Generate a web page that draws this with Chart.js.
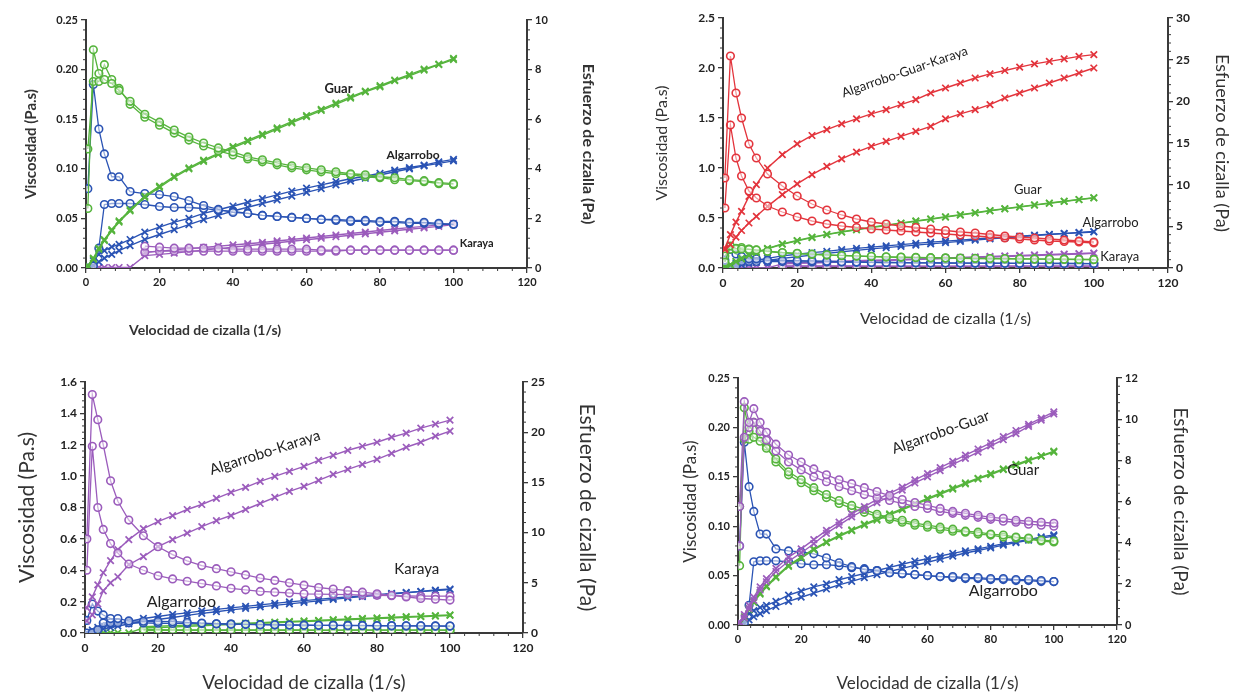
<!DOCTYPE html>
<html>
<head>
<meta charset="utf-8">
<script src="https://cdn.jsdelivr.net/npm/chart.js@4/dist/chart.umd.min.js"></script>
<style>
  body { margin: 0; background: #fff; width: 1239px; height: 698px; position: relative; overflow: hidden; }
  canvas { position: absolute; }
</style>
</head>
<body>
<canvas id="c1" width="584" height="342" style="left:18px;top:0px"></canvas>
<canvas id="c2" width="589" height="332" style="left:648px;top:0px"></canvas>
<canvas id="c3" width="592" height="338" style="left:11px;top:360px"></canvas>
<canvas id="c4" width="520" height="338" style="left:676px;top:360px"></canvas>
<script>
// shear rates (1/s) shared by every curve
const rates = [0.5, 2, 3.5, 5, 7, 9, 12, 16, 20, 24, 28, 32, 36, 40, 44, 48, 52, 56, 60, 64, 68, 72, 76, 80, 84, 88, 92, 96, 100];

// Guar
const guarViscUp     = [0.06, 0.22, 0.196, 0.19, 0.186, 0.179, 0.168, 0.155, 0.147, 0.139, 0.132, 0.126, 0.121, 0.117, 0.112, 0.109, 0.106, 0.103, 0.101, 0.099, 0.097, 0.095, 0.094, 0.092, 0.091, 0.089, 0.088, 0.086, 0.085];
const guarViscDown   = [0.12, 0.188, 0.188, 0.205, 0.19, 0.181, 0.165, 0.152, 0.144, 0.136, 0.129, 0.123, 0.118, 0.114, 0.11, 0.107, 0.104, 0.101, 0.099, 0.097, 0.095, 0.094, 0.092, 0.091, 0.089, 0.088, 0.087, 0.085, 0.084];
const guarStressUp   = [0.05, 0.35, 0.75, 1.1, 1.5, 1.85, 2.3, 2.85, 3.25, 3.65, 4.0, 4.3, 4.58, 4.85, 5.1, 5.35, 5.6, 5.85, 6.1, 6.35, 6.6, 6.85, 7.1, 7.3, 7.55, 7.75, 7.98, 8.2, 8.4];
const guarStressDown = [0.1, 0.4, 0.8, 1.15, 1.55, 1.9, 2.35, 2.9, 3.3, 3.7, 4.04, 4.35, 4.62, 4.9, 5.15, 5.4, 5.65, 5.9, 6.15, 6.4, 6.65, 6.9, 7.13, 7.35, 7.58, 7.8, 8.02, 8.22, 8.45];

// Algarrobo
const algViscUp     = [0.08, 0.185, 0.14, 0.115, 0.092, 0.092, 0.077, 0.075, 0.074, 0.072, 0.068, 0.063, 0.059, 0.056, 0.055, 0.053, 0.052, 0.051, 0.05, 0.049, 0.049, 0.048, 0.048, 0.047, 0.047, 0.046, 0.046, 0.045, 0.044];
const algViscDown   = [0.0, 0.002, 0.02, 0.064, 0.065, 0.065, 0.065, 0.064, 0.062, 0.061, 0.061, 0.06, 0.058, 0.057, 0.055, 0.053, 0.052, 0.051, 0.05, 0.049, 0.048, 0.047, 0.047, 0.046, 0.046, 0.045, 0.045, 0.044, 0.044];
const algStressUp   = [0.02, 0.1, 0.25, 0.4, 0.55, 0.7, 0.9, 1.15, 1.35, 1.55, 1.75, 1.95, 2.12, 2.3, 2.45, 2.6, 2.75, 2.9, 3.05, 3.2, 3.35, 3.5, 3.62, 3.75, 3.88, 4.0, 4.12, 4.22, 4.32];
const algStressDown = [0.05, 0.3, 0.55, 0.7, 0.85, 0.95, 1.15, 1.45, 1.65, 1.85, 2.0, 2.2, 2.35, 2.5, 2.65, 2.8, 2.95, 3.1, 3.22, 3.35, 3.48, 3.6, 3.7, 3.82, 3.95, 4.05, 4.15, 4.28, 4.38];

// Karaya
const karViscUp     = [null, null, null, null, null, null, null, 0.022, 0.021, 0.02, 0.02, 0.02, 0.02, 0.019, 0.019, 0.019, 0.019, 0.019, 0.019, 0.018, 0.018, 0.018, 0.018, 0.018, 0.018, 0.018, 0.018, 0.018, 0.018];
const karViscDown   = [null, null, null, null, null, null, null, 0.016, 0.017, 0.017, 0.017, 0.017, 0.017, 0.017, 0.017, 0.017, 0.017, 0.017, 0.017, 0.017, 0.017, 0.018, 0.018, 0.018, 0.018, 0.018, 0.018, 0.018, 0.018];
const karStressUp   = [0.02, 0.02, 0.02, 0.02, 0.02, 0.02, 0.02, 0.5, 0.55, 0.6, 0.66, 0.72, 0.78, 0.84, 0.9, 0.96, 1.02, 1.08, 1.14, 1.2, 1.26, 1.32, 1.38, 1.44, 1.5, 1.56, 1.62, 1.68, 1.75];
const karStressDown = [null, null, null, null, null, null, null, 0.62, 0.68, 0.73, 0.78, 0.83, 0.88, 0.93, 0.98, 1.03, 1.09, 1.15, 1.21, 1.27, 1.33, 1.39, 1.45, 1.51, 1.57, 1.63, 1.68, 1.74, 1.8];

// Algarrobo-Guar-Karaya
const agkViscUp     = [0.9, 2.12, 1.75, 1.5, 1.24, 1.1, 0.94, 0.82, 0.72, 0.64, 0.58, 0.53, 0.49, 0.46, 0.44, 0.42, 0.405, 0.39, 0.375, 0.36, 0.35, 0.335, 0.32, 0.31, 0.3, 0.29, 0.28, 0.27, 0.26];
const agkViscDown   = [0.6, 1.43, 1.1, 0.92, 0.77, 0.7, 0.62, 0.56, 0.51, 0.47, 0.44, 0.42, 0.405, 0.39, 0.38, 0.37, 0.36, 0.35, 0.34, 0.33, 0.32, 0.31, 0.3, 0.29, 0.28, 0.27, 0.265, 0.26, 0.25];
const agkStressUp   = [2.2, 2.8, 3.7, 4.5, 5.4, 6.2, 7.4, 8.8, 10.1, 11.2, 12.2, 13.1, 13.9, 14.6, 15.2, 15.8, 16.4, 17.0, 17.9, 18.5, 19.0, 19.6, 20.4, 21.0, 21.6, 22.2, 22.8, 23.4, 24.0];
const agkStressDown = [2.4, 4.0, 5.5, 6.8, 8.6, 10.0, 12.0, 13.6, 14.9, 15.9, 16.6, 17.3, 17.9, 18.5, 19.0, 19.6, 20.2, 21.0, 21.6, 22.2, 22.8, 23.3, 23.7, 24.1, 24.5, 24.8, 25.1, 25.4, 25.6];

// Algarrobo-Karaya
const akViscUp     = [0.6, 1.52, 1.36, 1.2, 0.97, 0.84, 0.72, 0.62, 0.55, 0.5, 0.46, 0.43, 0.41, 0.39, 0.37, 0.35, 0.335, 0.32, 0.305, 0.29, 0.28, 0.27, 0.26, 0.25, 0.24, 0.23, 0.22, 0.215, 0.21];
const akViscDown   = [0.4, 1.19, 0.8, 0.66, 0.57, 0.51, 0.44, 0.4, 0.365, 0.345, 0.33, 0.315, 0.3, 0.285, 0.275, 0.265, 0.26, 0.255, 0.25, 0.248, 0.246, 0.244, 0.242, 0.24, 0.238, 0.236, 0.235, 0.235, 0.235];
const akStressUp   = [2.5, 3.6, 4.8, 6.0, 7.2, 8.3, 9.3, 10.4, 11.1, 11.7, 12.3, 12.8, 13.4, 14.0, 14.5, 15.1, 15.6, 16.1, 16.6, 17.2, 17.7, 18.2, 18.6, 19.0, 19.5, 19.9, 20.4, 20.8, 21.2];
const akStressDown = [1.2, 1.8, 2.9, 4.2, 5.0, 5.6, 6.8, 7.6, 8.6, 9.3, 9.95, 10.6, 11.2, 11.7, 12.3, 12.9, 13.5, 14.1, 14.6, 15.2, 15.8, 16.3, 16.8, 17.3, 17.9, 18.5, 19.0, 19.6, 20.1];

// Algarrobo-Guar
const agViscUp     = [0.12, 0.226, 0.205, 0.219, 0.205, 0.195, 0.183, 0.172, 0.165, 0.158, 0.152, 0.147, 0.143, 0.139, 0.135, 0.131, 0.127, 0.124, 0.121, 0.118, 0.115, 0.113, 0.111, 0.109, 0.108, 0.106, 0.105, 0.104, 0.103];
const agViscDown   = [0.08, 0.19, 0.2, 0.205, 0.196, 0.187, 0.176, 0.165, 0.157, 0.15, 0.145, 0.14, 0.136, 0.132, 0.129, 0.126, 0.123, 0.12, 0.118, 0.115, 0.113, 0.111, 0.109, 0.107, 0.105, 0.104, 0.102, 0.101, 0.1];
const agStressUp   = [0.1, 0.35, 0.8, 1.2, 1.7, 2.1, 2.6, 3.1, 3.5, 3.95, 4.45, 4.85, 5.25, 5.6, 5.95, 6.25, 6.55, 6.9, 7.2, 7.5, 7.8, 8.1, 8.4, 8.7, 9.0, 9.3, 9.65, 9.95, 10.25];
const agStressDown = [0.15, 0.5, 0.95, 1.35, 1.85, 2.25, 2.75, 3.3, 3.7, 4.15, 4.6, 5.0, 5.4, 5.75, 6.1, 6.4, 6.7, 7.05, 7.35, 7.65, 7.95, 8.25, 8.55, 8.85, 9.15, 9.45, 9.75, 10.05, 10.35];

const GREEN = '#55b43c', BLUE = '#2a53b4', PURPLE = '#9b5cbc', RED = '#e3343c';
const AXIS = '#3a3a3a';
const FAM = "Lato, 'Liberation Sans', sans-serif";
const X_TITLE = 'Velocidad de cizalla (1/s)';

function pts(vals) {
  return vals.map((v, i) => ({ x: rates[i], y: v }));
}

function visc(label, vals, color) {
  return {
    label, data: pts(vals), yAxisID: 'y',
    borderColor: color, borderWidth: 1.3,
    pointStyle: 'circle', pointRadius: 3.8, pointBorderWidth: 1.6,
    pointBorderColor: color, pointBackgroundColor: 'rgba(255,255,255,0.5)'
  };
}

function stress(label, vals, color) {
  return {
    label, data: pts(vals), yAxisID: 'y2',
    borderColor: color, borderWidth: 1.4,
    pointStyle: 'crossRot', pointRadius: 4.6, pointBorderWidth: 1.7,
    pointBorderColor: color, pointBackgroundColor: color
  };
}

// small minor ticks between major ones
const minorTicks = {
  id: 'minorTicks',
  afterDraw(chart) {
    const ctx = chart.ctx, a = chart.chartArea;
    ctx.save();
    ctx.strokeStyle = AXIS;
    ctx.lineWidth = 1;
    Object.values(chart.scales).forEach(s => {
      const t = s.ticks;
      for (let i = 0; i < t.length - 1; i++) {
        for (let k = 1; k < 5; k++) {
          const v = t[i].value + (t[i + 1].value - t[i].value) * k / 5;
          const p = s.getPixelForValue(v);
          ctx.beginPath();
          if (s.axis === 'x') { ctx.moveTo(p, a.bottom); ctx.lineTo(p, a.bottom + 3); }
          else if (s.position === 'left') { ctx.moveTo(a.left, p); ctx.lineTo(a.left - 3, p); }
          else { ctx.moveTo(a.right, p); ctx.lineTo(a.right + 3, p); }
          ctx.stroke();
        }
      }
    });
    ctx.restore();
  }
};

// curve names written inside the plot, plus an off-centre x title when asked
const notes = {
  id: 'notes',
  afterDraw(chart, args, opts) {
    const ctx = chart.ctx;
    (opts.items || []).forEach(n => {
      const px = chart.scales.x.getPixelForValue(n.x);
      const py = chart.scales.y.getPixelForValue(n.y);
      ctx.save();
      ctx.translate(px, py);
      ctx.rotate((n.angle || 0) * Math.PI / 180);
      ctx.font = n.font;
      ctx.fillStyle = '#222';
      ctx.textAlign = 'center';
      ctx.textBaseline = 'middle';
      ctx.fillText(n.text, 0, 0);
      ctx.restore();
    });
    if (opts.xTitle) {
      ctx.save();
      ctx.font = opts.xTitle.font;
      ctx.fillStyle = '#333';
      ctx.textAlign = 'center';
      ctx.textBaseline = 'middle';
      ctx.fillText(X_TITLE, chart.scales.x.getPixelForValue(opts.xTitle.x), chart.height - opts.xTitle.up);
      ctx.restore();
    }
  }
};

function makeChart(id, datasets, ax, items) {
  const tickFont = { family: FAM, size: ax.tick, weight: 'bold' };
  const font = size => ({ family: FAM, size, weight: ax.titleWeight });
  const grid = { display: true, drawOnChartArea: false, drawTicks: true, tickLength: 5, color: AXIS, lineWidth: 1.3 };
  const border = { display: true, color: AXIS, width: 2 };
  return new Chart(document.getElementById(id), {
    type: 'line',
    data: { datasets },
    options: {
      responsive: false,
      animation: false,
      layout: { padding: { top: ax.top, left: 0, right: 0, bottom: 0 } },
      plugins: { legend: { display: false }, tooltip: { enabled: false }, notes: { items, xTitle: ax.xTitle } },
      scales: {
        x: {
          type: 'linear', min: 0, max: 120,
          ticks: { stepSize: 20, color: '#222', font: tickFont, padding: 3, maxRotation: 0 },
          grid, border,
          title: { display: !ax.xTitle, text: X_TITLE, color: '#333', font: font(ax.xt), padding: 4 },
          afterFit: s => { s.height = ax.bottom; }
        },
        y: {
          position: 'left', min: 0, max: ax.yMax,
          ticks: { stepSize: ax.yStep, color: '#222', font: tickFont, padding: 3, callback: v => v.toFixed(ax.yDec) },
          grid, border,
          title: { display: true, text: 'Viscosidad (Pa.s)', color: '#333', font: font(ax.lt), padding: 4 },
          afterFit: s => { s.width = ax.left; }
        },
        y2: {
          position: 'right', min: 0, max: ax.y2Max,
          ticks: { stepSize: ax.y2Step, color: '#222', font: tickFont, padding: 3 },
          grid, border,
          title: { display: true, text: 'Esfuerzo de cizalla (Pa)', color: '#333', font: font(ax.rt), padding: 4 },
          afterFit: s => { s.width = ax.right; }
        }
      }
    },
    plugins: [minorTicks, notes]
  });
}

function gum(name, vu, vd, su, sd, color) {
  return [
    visc(name + ' viscosidad subida', vu, color),
    visc(name + ' viscosidad bajada', vd, color),
    stress(name + ' esfuerzo subida', su, color),
    stress(name + ' esfuerzo bajada', sd, color)
  ];
}

const guar = c => gum('Guar', guarViscUp, guarViscDown, guarStressUp, guarStressDown, c);
const alg = c => gum('Algarrobo', algViscUp, algViscDown, algStressUp, algStressDown, c);
const kar = c => gum('Karaya', karViscUp, karViscDown, karStressUp, karStressDown, c);

makeChart('c1', [...guar(GREEN), ...alg(BLUE), ...kar(PURPLE)],
  { yMax: 0.25, yStep: 0.05, yDec: 2, y2Max: 10, y2Step: 2, tick: 11, xt: 14, lt: 15, rt: 16, titleWeight: 'bold',
    left: 68, right: 75, bottom: 74, top: 20,
    xTitle: { x: 32.4, up: 12, font: "bold 14px " + FAM } },
  [
    { text: 'Guar', x: 68.7, y: 0.181, font: "bold 13px " + FAM },
    { text: 'Algarrobo', x: 89, y: 0.114, font: "bold 12px " + FAM },
    { text: 'Karaya', x: 106.3, y: 0.025, font: "bold 11px " + FAM }
  ]);

makeChart('c2', [...gum('Algarrobo-Guar-Karaya', agkViscUp, agkViscDown, agkStressUp, agkStressDown, RED),
    ...guar(GREEN), ...alg(BLUE), ...kar(PURPLE)],
  { yMax: 2.5, yStep: 0.5, yDec: 1, y2Max: 30, y2Step: 5, tick: 12, xt: 16, lt: 16, rt: 18, titleWeight: 'normal',
    left: 75, right: 69, bottom: 64, top: 18 },
  [
    { text: 'Algarrobo-Guar-Karaya', x: 49, y: 1.96, angle: -19, font: "13px " + FAM },
    { text: 'Guar', x: 82.2, y: 0.78, font: "13px " + FAM },
    { text: 'Algarrobo', x: 104.5, y: 0.45, font: "13px " + FAM },
    { text: 'Karaya', x: 107, y: 0.11, font: "13px " + FAM }
  ]);

makeChart('c3', [...gum('Algarrobo-Karaya', akViscUp, akViscDown, akStressUp, akStressDown, PURPLE),
    ...alg(BLUE), ...kar(GREEN)],
  { yMax: 1.6, yStep: 0.2, yDec: 1, y2Max: 25, y2Step: 5, tick: 12, xt: 19, lt: 21, rt: 21, titleWeight: 'normal',
    left: 74, right: 80, bottom: 65, top: 22 },
  [
    { text: 'Algarrobo-Karaya', x: 49.3, y: 1.15, angle: -18, font: "15px " + FAM },
    { text: 'Algarrobo', x: 26.4, y: 0.2, font: "16px " + FAM },
    { text: 'Karaya', x: 90.9, y: 0.41, font: "15px " + FAM }
  ]);

makeChart('c4', [...gum('Algarrobo-Guar', agViscUp, agViscDown, agStressUp, agStressDown, PURPLE),
    ...guar(GREEN), ...alg(BLUE)],
  { yMax: 0.25, yStep: 0.05, yDec: 2, y2Max: 12, y2Step: 2, tick: 11, xt: 17, lt: 17, rt: 19, titleWeight: 'normal',
    left: 62, right: 79, bottom: 73, top: 18 },
  [
    { text: 'Algarrobo-Guar', x: 64.2, y: 0.195, angle: -19.5, font: "15px " + FAM },
    { text: 'Guar', x: 90.3, y: 0.157, font: "15px " + FAM },
    { text: 'Algarrobo', x: 84, y: 0.035, font: "16px " + FAM }
  ]);
</script>
</body>
</html>
